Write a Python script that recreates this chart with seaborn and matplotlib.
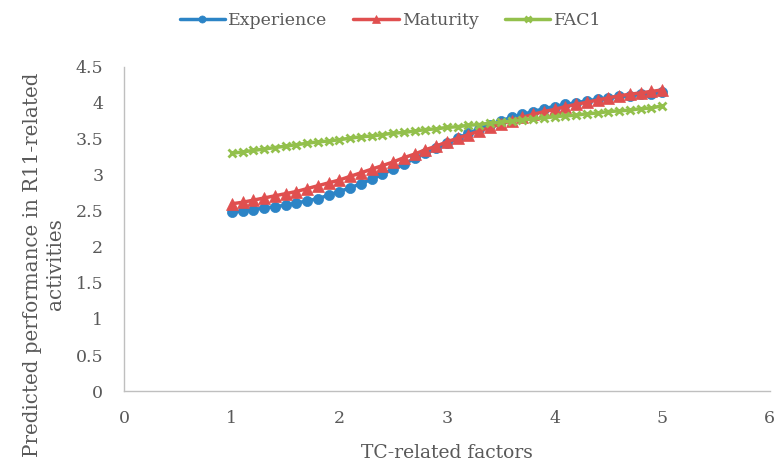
import numpy as np
import pandas as pd
import matplotlib
matplotlib.use("Agg")
import matplotlib.pyplot as plt
import seaborn as sns

sns.set_style("white")
plt.rcParams['font.family'] = ['DejaVu Serif']

# 数据 (x 从 1 到 5, 步长 0.1)
x_vals = [1.0, 1.1, 1.2, 1.3, 1.4, 1.5, 1.6, 1.7, 1.8, 1.9,
          2.0, 2.1, 2.2, 2.3, 2.4, 2.5, 2.6, 2.7, 2.8, 2.9,
          3.0, 3.1, 3.2, 3.3, 3.4, 3.5, 3.6, 3.7, 3.8, 3.9,
          4.0, 4.1, 4.2, 4.3, 4.4, 4.5, 4.6, 4.7, 4.8, 4.9, 5.0]
experience = [2.48, 2.50, 2.52, 2.54, 2.56, 2.58, 2.61, 2.64, 2.67, 2.72,
              2.77, 2.82, 2.88, 2.94, 3.01, 3.08, 3.15, 3.23, 3.30, 3.37,
              3.44, 3.51, 3.58, 3.64, 3.70, 3.75, 3.80, 3.84, 3.88, 3.92,
              3.95, 3.98, 4.00, 4.03, 4.05, 4.07, 4.09, 4.10, 4.12, 4.13, 4.15]
maturity = [2.60, 2.62, 2.65, 2.68, 2.71, 2.74, 2.77, 2.81, 2.85, 2.89,
            2.93, 2.98, 3.03, 3.08, 3.13, 3.18, 3.24, 3.29, 3.35, 3.40,
            3.46, 3.51, 3.56, 3.61, 3.66, 3.71, 3.75, 3.80, 3.84, 3.88,
            3.91, 3.95, 3.98, 4.01, 4.04, 4.07, 4.10, 4.12, 4.14, 4.16, 4.18]
fac1 = [3.30, 3.32, 3.34, 3.36, 3.38, 3.40, 3.42, 3.44, 3.46, 3.47,
        3.49, 3.51, 3.53, 3.54, 3.56, 3.58, 3.59, 3.61, 3.63, 3.64,
        3.66, 3.67, 3.69, 3.70, 3.72, 3.73, 3.75, 3.76, 3.78, 3.79,
        3.81, 3.82, 3.83, 3.85, 3.86, 3.88, 3.89, 3.90, 3.92, 3.93, 3.96]

colors = ['#2C84C6', '#E04F4F', '#93C04C']

df = pd.DataFrame({'x': x_vals, 'Experience': experience,
                   'Maturity': maturity, 'FAC1': fac1})

fig = plt.figure(figsize=(7.76, 4.68), dpi=100)
ax = fig.add_axes([0.160, 0.1645, 0.832, 0.6925])

# 三条线 (seaborn 默认白色描边, 这里改回同色)
sns.lineplot(data=df, x='x', y='Experience', ax=ax, color=colors[0],
             linewidth=2.5, marker='o', markersize=7.3, markeredgewidth=0.5,
             markeredgecolor=colors[0], label='Experience')
sns.lineplot(data=df, x='x', y='Maturity', ax=ax, color=colors[1],
             linewidth=2.5, marker='^', markersize=8, markeredgewidth=0.5,
             markeredgecolor=colors[1], label='Maturity')
sns.lineplot(data=df, x='x', y='FAC1', ax=ax, color=colors[2],
             linewidth=2.5, marker='x', markersize=6, markeredgewidth=2,
             markeredgecolor=colors[2], label='FAC1')

ax.set_xlim(0, 6)
ax.set_ylim(0, 4.5)
ax.set_xticks([0, 1, 2, 3, 4, 5, 6])
ax.set_yticks([0, 0.5, 1, 1.5, 2, 2.5, 3, 3.5, 4, 4.5])
ax.set_yticklabels(['0', '0.5', '1', '1.5', '2', '2.5', '3', '3.5', '4', '4.5'])
ax.tick_params(length=0, labelsize=12.5, labelcolor='#595959')
ax.tick_params(axis='y', pad=15)
ax.tick_params(axis='x', pad=14)

for s in ['top', 'right']:
    ax.spines[s].set_visible(False)
for s in ['left', 'bottom']:
    ax.spines[s].set_color('#BFBFBF')
    ax.spines[s].set_linewidth(1)

ax.set_xlabel('TC-related factors', fontsize=13.5, color='#595959', labelpad=12)
ax.set_ylabel('')
fig.text(0.057, 0.435, 'Predicted performance in R11-related\nactivities',
         rotation=90, ha='center', va='center', multialignment='center',
         fontsize=14.3, color='#595959', linespacing=1.25)

ax.legend(loc='center', bbox_to_anchor=(0.503, 0.957), bbox_transform=fig.transFigure,
          ncol=3, frameon=False, fontsize=12.5, handlelength=2.6, markerscale=0.7,
          columnspacing=1.5, handletextpad=0.2, labelcolor='#595959')

fig.savefig('out.png', dpi=100)
